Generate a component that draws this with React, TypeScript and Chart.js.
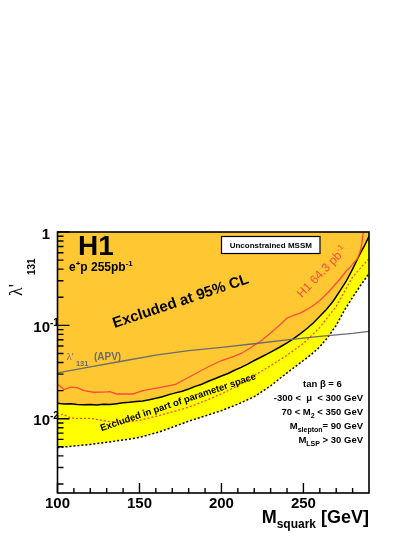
import React, { useEffect, useRef } from "react";
import { Chart, registerables } from "chart.js";
Chart.register(...registerables);

const SANS = '"Liberation Sans", Arial, Helvetica, sans-serif';
const SERIF = '"Liberation Serif", "Times New Roman", serif';

// axis ranges
const xMin = 100;
const xMax = 290;
const yMin = 0.0016;
const yMax = 1;

// ticks
const xMajorTicks = [100, 150, 200, 250];
const xTickLabels = ["100", "150", "200", "250"];
const xMinorTicks = [110, 120, 130, 140, 160, 170, 180, 190, 210, 220, 230, 240, 260, 270, 280];
const yMajorTicks = [0.01, 0.1, 1];
const yTickBase = ["10", "10", "1"];
const yTickExp = ["-2", "-1", ""];
const yMinorTicks = [
  0.002, 0.003, 0.004, 0.005, 0.006, 0.007, 0.008, 0.009,
  0.02, 0.03, 0.04, 0.05, 0.06, 0.07, 0.08, 0.09,
  0.2, 0.3, 0.4, 0.5, 0.6, 0.7, 0.8, 0.9,
];

// H1 95% CL limit, 255 pb-1 (black solid)
const limitMass = [100, 104, 108, 112, 116, 120, 124, 128, 132, 136, 140, 144, 148, 152, 156, 160, 164, 168, 172, 176, 180, 184, 188, 192, 196, 200, 204, 208, 212, 216, 220, 224, 228, 232, 236, 240, 244, 248, 252, 256, 260, 264, 268, 272, 276, 280, 284, 287, 290];
const limitValue = [0.0146, 0.0144, 0.0145, 0.0142, 0.0141, 0.0142, 0.014, 0.0143, 0.0142, 0.0145, 0.0148, 0.015, 0.0153, 0.0155, 0.016, 0.0166, 0.0172, 0.0181, 0.0189, 0.0197, 0.0208, 0.0222, 0.0234, 0.0252, 0.0268, 0.0287, 0.0305, 0.033, 0.0355, 0.0385, 0.042, 0.0455, 0.0495, 0.054, 0.059, 0.065, 0.072, 0.081, 0.092, 0.106, 0.125, 0.148, 0.18, 0.23, 0.295, 0.4, 0.56, 0.7, 0.9];

// excluded in part of parameter space (black dotted)
const partMass = [100, 110, 120, 130, 140, 150, 158, 162, 170, 180, 190, 200, 210, 220, 230, 240, 250, 255, 260, 265, 270, 275, 280, 285, 290];
const partValue = [0.0049, 0.0051, 0.0053, 0.0056, 0.0059, 0.0063, 0.0069, 0.0072, 0.0081, 0.0094, 0.0107, 0.0122, 0.0143, 0.0172, 0.0225, 0.031, 0.042, 0.049, 0.059, 0.075, 0.1, 0.145, 0.2, 0.27, 0.36];

// red dotted limit
const redDotMass = [100, 103, 107, 110, 120, 130, 140, 150, 160, 170, 180, 190, 200, 210, 220, 230, 240, 250, 260, 270, 280, 290];
const redDotValue = [0.0105, 0.0112, 0.0104, 0.0101, 0.0101, 0.0094, 0.0091, 0.0096, 0.0106, 0.0118, 0.0133, 0.0155, 0.0185, 0.0225, 0.029, 0.037, 0.048, 0.064, 0.095, 0.16, 0.33, 0.52];

// H1 64.3 pb-1 limit (red solid)
const oldMass = [100, 104, 108, 112, 116, 122, 128, 132, 136, 146, 152, 162, 172, 182, 192, 200, 206, 212, 218, 224, 230, 236, 240, 244, 248, 255, 260, 266, 272, 276, 280, 283, 285, 286, 286.7];
const oldValue = [0.0235, 0.0205, 0.0218, 0.0215, 0.02, 0.0192, 0.0193, 0.0195, 0.0184, 0.0184, 0.02, 0.0215, 0.0233, 0.029, 0.036, 0.042, 0.0455, 0.05, 0.058, 0.068, 0.083, 0.103, 0.12, 0.128, 0.135, 0.158, 0.185, 0.235, 0.31, 0.38, 0.45, 0.52, 0.65, 0.85, 1.05];

// atomic parity violation bound (grey)
const apvMass = [100, 120, 140, 160, 180, 200, 220, 240, 260, 280, 290];
const apvValue = [0.031, 0.036, 0.0415, 0.048, 0.0535, 0.058, 0.0635, 0.07, 0.076, 0.082, 0.086];

const ORANGE = "#ffc832";
const YELLOW = "#ffff00";
const RED = "#ff4a3d";
const GREY = "#6b6b6b";

const pts = (xs: number[], ys: number[]) => xs.map((x, i) => ({ x, y: ys[i] }));

type Seg = { t: string; font: string; dy?: number };

function richWidth(ctx: CanvasRenderingContext2D, segs: Seg[]) {
  let w = 0;
  for (const s of segs) {
    ctx.font = s.font;
    w += ctx.measureText(s.t).width;
  }
  return w;
}

function drawRich(
  ctx: CanvasRenderingContext2D,
  segs: Seg[],
  x: number,
  y: number,
  align: "left" | "right" | "center",
  color: string
) {
  const w = richWidth(ctx, segs);
  let cx = align === "left" ? x : align === "right" ? x - w : x - w / 2;
  ctx.textAlign = "left";
  ctx.textBaseline = "alphabetic";
  ctx.fillStyle = color;
  for (const s of segs) {
    ctx.font = s.font;
    ctx.fillText(s.t, cx, y + (s.dy || 0));
    cx += ctx.measureText(s.t).width;
  }
}

const overlay = {
  id: "overlay",
  afterDraw(chart: any) {
    const ctx: CanvasRenderingContext2D = chart.ctx;
    const { left, right, top, bottom } = chart.chartArea;
    const xs = chart.scales.x;
    const ys = chart.scales.y;
    ctx.save();

    // frame
    ctx.strokeStyle = "#000";
    ctx.lineWidth = 1.6;
    ctx.strokeRect(left, top, right - left, bottom - top);

    // ticks
    ctx.lineWidth = 1.4;
    ctx.beginPath();
    xMajorTicks.forEach((v) => {
      const p = xs.getPixelForValue(v);
      ctx.moveTo(p, bottom);
      ctx.lineTo(p, bottom - 10);
    });
    xMinorTicks.forEach((v) => {
      const p = xs.getPixelForValue(v);
      ctx.moveTo(p, bottom);
      ctx.lineTo(p, bottom - 5);
    });
    yMajorTicks.forEach((v) => {
      const p = ys.getPixelForValue(v);
      ctx.moveTo(left, p);
      ctx.lineTo(left + 12, p);
    });
    yMinorTicks.forEach((v) => {
      const p = ys.getPixelForValue(v);
      ctx.moveTo(left, p);
      ctx.lineTo(left + 6, p);
    });
    ctx.stroke();

    // tick labels
    ctx.fillStyle = "#000";
    ctx.font = `bold 15px ${SANS}`;
    ctx.textAlign = "center";
    ctx.textBaseline = "alphabetic";
    xMajorTicks.forEach((v, i) => {
      ctx.fillText(xTickLabels[i], xs.getPixelForValue(v), bottom + 14.5);
    });
    yMajorTicks.forEach((v, i) => {
      const p = ys.getPixelForValue(v);
      ctx.font = `bold 15px ${SANS}`;
      ctx.textAlign = "right";
      ctx.fillText(yTickBase[i], left - 7.5, p + 6.5);
      if (yTickExp[i]) {
        ctx.font = `bold 10px ${SANS}`;
        ctx.textAlign = "left";
        ctx.fillText(yTickExp[i], left - 7.5, p + 0.5);
      }
    });

    // x title
    drawRich(
      ctx,
      [
        { t: "M", font: `bold 18px ${SANS}` },
        { t: "squark", font: `bold 12px ${SANS}`, dy: 5 },
        { t: " [GeV]", font: `bold 18px ${SANS}` },
      ],
      right,
      523,
      "right",
      "#000"
    );

    // y title (rotated)
    ctx.save();
    ctx.translate(22, 296);
    ctx.rotate(-Math.PI / 2);
    ctx.fillStyle = "#000";
    ctx.textAlign = "left";
    ctx.font = `18px ${SERIF}`;
    ctx.fillText("\u03bb'", 0, 0);
    ctx.font = `bold 10px ${SANS}`;
    ctx.fillText("131", 21, 13);
    ctx.restore();

    // H1 logo
    ctx.fillStyle = "#000";
    ctx.textAlign = "left";
    ctx.font = `bold 28px ${SANS}`;
    ctx.fillText("H1", 78, 255);
    drawRich(
      ctx,
      [
        { t: "e", font: `bold 12px ${SANS}` },
        { t: "+", font: `bold 8px ${SANS}`, dy: -5 },
        { t: "p 255pb", font: `bold 12px ${SANS}` },
        { t: "-1", font: `bold 8px ${SANS}`, dy: -5 },
      ],
      69,
      270.5,
      "left",
      "#000"
    );

    // Unconstrained MSSM box
    ctx.fillStyle = "#fff";
    ctx.fillRect(221.5, 236.5, 98.5, 17);
    ctx.strokeStyle = "#000";
    ctx.lineWidth = 1.2;
    ctx.strokeRect(221.5, 236.5, 98.5, 17);
    ctx.fillStyle = "#000";
    ctx.font = `bold 8px ${SANS}`;
    ctx.textAlign = "center";
    ctx.fillText("Unconstrained MSSM", 270.8, 248);

    // Excluded at 95% CL
    ctx.save();
    ctx.translate(182, 305.5);
    ctx.rotate((-18.5 * Math.PI) / 180);
    ctx.font = `bold 15px ${SANS}`;
    ctx.textAlign = "center";
    ctx.fillStyle = "#000";
    ctx.fillText("Excluded at 95% CL", 0, 0);
    ctx.restore();

    // Excluded in part of parameter space
    ctx.save();
    ctx.translate(179, 405);
    ctx.rotate((-18.7 * Math.PI) / 180);
    ctx.font = `bold 9.5px ${SANS}`;
    ctx.textAlign = "center";
    ctx.fillStyle = "#000";
    ctx.fillText("Excluded in part of parameter space", 0, 0);
    ctx.restore();

    // H1 64.3 pb-1 (red)
    ctx.save();
    ctx.translate(322.5, 276.7);
    ctx.rotate((-46 * Math.PI) / 180);
    drawRich(
      ctx,
      [
        { t: "H1 64.3 pb", font: `12px ${SANS}` },
        { t: "-1", font: `8px ${SANS}`, dy: -5 },
      ],
      3,
      0,
      "center",
      RED
    );
    ctx.restore();

    // APV label
    drawRich(
      ctx,
      [
        { t: "\u03bb'", font: `11px ${SERIF}` },
        { t: " 131", font: `bold 7.5px ${SANS}`, dy: 6 },
        { t: "  (APV)", font: `bold 10px ${SANS}` },
      ],
      66.5,
      359.5,
      "left",
      GREY
    );

    // parameter block
    const B = `bold 9.5px ${SANS}`;
    const S = `bold 7px ${SANS}`;
    drawRich(ctx, [{ t: "tan \u03b2 = 6", font: B }], 303, 387, "left", "#000");
    drawRich(ctx, [{ t: "-300 <  \u03bc  < 300 GeV", font: B }], 363, 401, "right", "#000");
    drawRich(
      ctx,
      [
        { t: "70 < M", font: B },
        { t: "2", font: S, dy: 3 },
        { t: " < 350 GeV", font: B },
      ],
      363,
      415,
      "right",
      "#000"
    );
    drawRich(
      ctx,
      [
        { t: "M", font: B },
        { t: "slepton", font: S, dy: 3 },
        { t: "= 90 GeV", font: B },
      ],
      363,
      429.3,
      "right",
      "#000"
    );
    drawRich(
      ctx,
      [
        { t: "M", font: B },
        { t: "LSP", font: S, dy: 3 },
        { t: " > 30 GeV", font: B },
      ],
      363,
      443.3,
      "right",
      "#000"
    );

    ctx.restore();
  },
};

export default function App() {
  const ref = useRef<HTMLCanvasElement>(null);
  useEffect(() => {
    const canvas = ref.current!;
    const chart = new Chart(canvas, {
      type: "line",
      data: {
        datasets: [
          {
            data: pts(apvMass, apvValue),
            borderColor: GREY,
            borderWidth: 1.3,
            pointRadius: 0,
            fill: false,
          },
          {
            data: pts(oldMass, oldValue),
            borderColor: RED,
            borderWidth: 1.3,
            pointRadius: 0,
            fill: false,
          },
          {
            data: pts(redDotMass, redDotValue),
            borderColor: RED,
            borderWidth: 1.3,
            borderDash: [2, 2],
            pointRadius: 0,
            fill: false,
          },
          {
            data: pts(limitMass, limitValue),
            borderColor: "#000",
            borderWidth: 1.5,
            pointRadius: 0,
            fill: "end",
            backgroundColor: ORANGE,
          },
          {
            data: pts(partMass, partValue),
            borderColor: "#000",
            borderWidth: 1.5,
            borderDash: [2, 2],
            pointRadius: 0,
            fill: "end",
            backgroundColor: YELLOW,
          },
        ],
      },
      options: {
        animation: false,
        responsive: false,
        devicePixelRatio: 1,
        events: [],
        layout: { padding: { top: 232, right: 46, left: 0, bottom: 0 } },
        plugins: { legend: { display: false }, tooltip: { enabled: false } },
        scales: {
          x: {
            type: "linear",
            min: xMin,
            max: xMax,
            grid: { display: false },
            border: { display: false },
            ticks: { display: false },
            afterFit: (s: any) => {
              s.height = 44;
            },
          },
          y: {
            type: "logarithmic",
            min: yMin,
            max: yMax,
            grid: { display: false },
            border: { display: false },
            ticks: { display: false },
            afterFit: (s: any) => {
              s.width = 57.5;
            },
          },
        },
      } as any,
      plugins: [overlay],
    });
    return () => chart.destroy();
  }, []);
  return (
    <div style={{ position: "fixed", left: 0, top: 0, width: 415, height: 537, background: "#fff" }}>
      <canvas ref={ref} width={415} height={537} style={{ display: "block", width: 415, height: 537 }} />
    </div>
  );
}
